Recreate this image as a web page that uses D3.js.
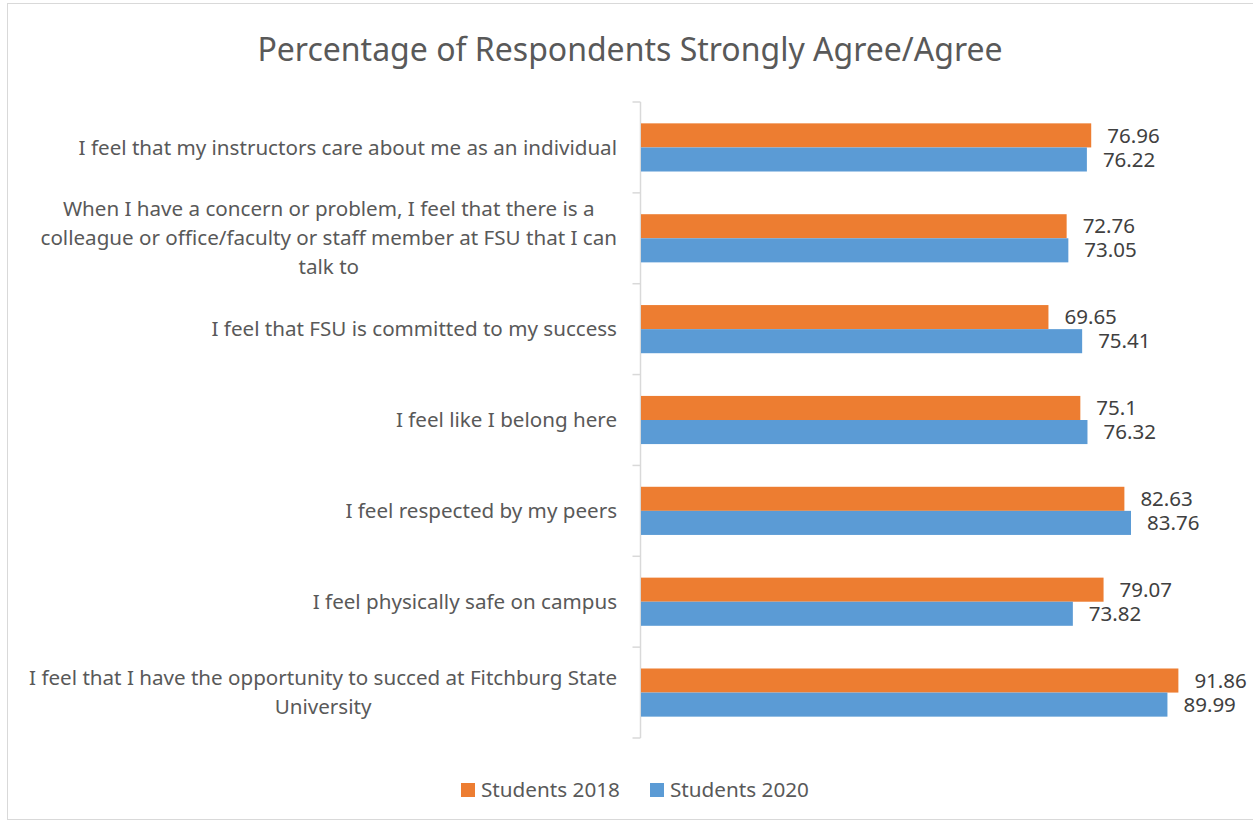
<!DOCTYPE html>
<html lang="en">
<head>
    <meta charset="UTF-8">
    <title>Percentage of Respondents Strongly Agree/Agree</title>
    <style>
        body, html {
            margin: 0;
            padding: 0;
            background-color: #ffffff;
            font-family: "Noto Sans", "Open Sans", sans-serif;
        }
        svg text {
            fill: #595959;
        }
        .value-label {
            fill: #404040;
        }
    </style>
</head>
<body>
    <div id="chart"></div>

    <script src="https://d3js.org/d3.v7.min.js"></script>
    <script>
        // category labels (line breaks as in the original chart)
        const categories = [
            "I feel that my instructors care about me as an individual",
            "When I have a concern or problem, I feel that there is a\ncolleague or office/faculty or staff member at FSU that I can\ntalk to",
            "I feel that FSU is committed to my success",
            "I feel like I belong here",
            "I feel respected by my peers",
            "I feel physically safe on campus",
            "I feel that I have the opportunity to succed at Fitchburg State\nUniversity"
        ];
        const seriesNames = ["Students 2018", "Students 2020"];
        const students2018 = [76.96, 72.76, 69.65, 75.1, 82.63, 79.07, 91.86];
        const students2020 = [76.22, 73.05, 75.41, 76.32, 83.76, 73.82, 89.99];
        const colors = ["#ed7d31", "#5b9bd5"];

        const width = 1253, height = 822;
        const margin = { top: 102, right: 27, bottom: 84, left: 641 };

        const svg = d3.select("#chart").append("svg")
            .attr("width", width)
            .attr("height", height);

        // chart border (right edge is cut off in the original)
        svg.append("rect")
            .attr("x", 7.5).attr("y", 3.5)
            .attr("width", width + 10).attr("height", height - 6)
            .attr("fill", "none")
            .attr("stroke", "#d9d9d9");

        svg.append("text")
            .attr("x", 630)
            .attr("y", 61)
            .attr("text-anchor", "middle")
            .style("font-size", "32px")
            .text("Percentage of Respondents Strongly Agree/Agree");

        const x = d3.scaleLinear()
            .domain([0, 100])
            .range([margin.left, width - margin.right]);

        const y = d3.scaleBand()
            .domain(categories)
            .range([margin.top, height - margin.bottom])
            .paddingInner(0.47)
            .paddingOuter(0.235);

        const ySub = d3.scaleBand()
            .domain(seriesNames)
            .range([0, y.bandwidth()]);

        const rows = categories.map((c, i) => ({
            category: c,
            values: [
                { series: seriesNames[0], value: students2018[i] },
                { series: seriesNames[1], value: students2020[i] }
            ]
        }));

        // category axis
        const axis = svg.append("g")
            .attr("transform", `translate(${margin.left - 0.5},0)`);
        axis.append("line")
            .attr("y1", margin.top).attr("y2", height - margin.bottom)
            .attr("stroke", "#d9d9d9").attr("stroke-width", 1.5);
        const step = y.step();
        const tickYs = d3.range(categories.length + 1).map(i => margin.top + i * step);
        axis.selectAll("line.tick")
            .data(tickYs)
            .enter().append("line")
            .attr("class", "tick")
            .attr("x1", -8).attr("x2", 0)
            .attr("y1", d => d).attr("y2", d => d)
            .attr("stroke", "#d9d9d9").attr("stroke-width", 1.5);

        // category labels, wrapped lines centred in a right-aligned block
        const lineH = 29;
        const labelGroups = svg.selectAll("g.cat")
            .data(categories)
            .enter().append("g")
            .attr("class", "cat");

        labelGroups.each(function(d) {
            const g = d3.select(this);
            const lines = d.split("\n");
            const cy = y(d) + y.bandwidth() / 2;
            const texts = g.selectAll("text")
                .data(lines)
                .enter().append("text")
                .style("font-size", "20.6px")
                .attr("dy", "0.35em")
                .attr("y", (l, i) => cy + (i - (lines.length - 1) / 2) * lineH)
                .text(l => l);
            const widths = [];
            texts.each(function() { widths.push(this.getComputedTextLength()); });
            const blockW = d3.max(widths);
            const right = 617;
            texts.attr("text-anchor", "middle")
                .attr("x", right - blockW / 2);
        });

        // bars
        const groups = svg.selectAll("g.row")
            .data(rows)
            .enter().append("g")
            .attr("class", "row")
            .attr("transform", d => `translate(0,${y(d.category)})`);

        groups.selectAll("rect")
            .data(d => d.values)
            .enter().append("rect")
            .attr("x", x(0))
            .attr("y", d => ySub(d.series))
            .attr("width", d => x(d.value) - x(0))
            .attr("height", ySub.bandwidth())
            .attr("fill", (d, i) => colors[i]);

        groups.selectAll("text.value-label")
            .data(d => d.values)
            .enter().append("text")
            .attr("class", "value-label")
            .attr("x", d => x(d.value) + 16)
            .attr("y", d => ySub(d.series) + ySub.bandwidth() / 2)
            .attr("dy", "0.35em")
            .style("font-size", "20.5px")
            .text(d => d.value);

        // legend
        const legendX = [461, 650];
        const legend = svg.selectAll("g.legend")
            .data(seriesNames)
            .enter().append("g")
            .attr("class", "legend")
            .attr("transform", (d, i) => `translate(${legendX[i]},790)`);
        legend.append("rect")
            .attr("x", 0).attr("y", -7)
            .attr("width", 14).attr("height", 14)
            .attr("fill", (d, i) => colors[i]);
        legend.append("text")
            .attr("x", 20)
            .attr("dy", "0.35em")
            .style("font-size", "20.7px")
            .text(d => d);
    </script>
</body>
</html>
